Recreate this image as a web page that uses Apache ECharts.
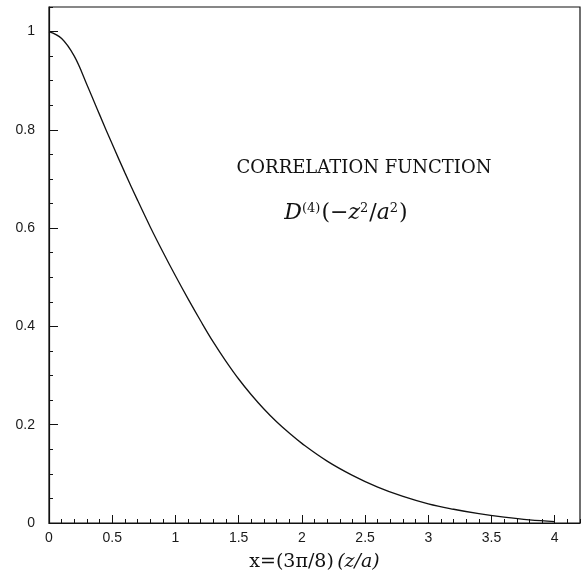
<!DOCTYPE html>
<html>
<head>
<meta charset="utf-8">
<script src="https://cdn.jsdelivr.net/npm/echarts@6/dist/echarts.min.js"></script>
<style>
    html, body { margin: 0; padding: 0; background: #fff; }
    #chart { width: 584px; height: 577px; }
</style>
</head>
<body>
<div id="chart"></div>
<script>
// x = (3pi/8)(z/a)
var xValues = [0, 0.1, 0.2, 0.3, 0.4, 0.5, 0.6, 0.7, 0.8, 0.9, 1.0, 1.1, 1.2, 1.3, 1.4, 1.5, 1.6, 1.7, 1.8, 1.9,
    2.0, 2.2, 2.4, 2.6, 2.8, 3.0, 3.2, 3.4, 3.6, 3.8, 4.0];
// D(4)(-z^2/a^2)
var corrValues = [1.000, 0.986, 0.950, 0.892, 0.831, 0.771, 0.713, 0.657, 0.603, 0.552, 0.503, 0.456, 0.411, 0.368,
    0.329, 0.293, 0.261, 0.232, 0.206, 0.183, 0.162, 0.126, 0.097, 0.073, 0.054, 0.039, 0.028, 0.019, 0.012, 0.0065, 0.003];
var xTickLabels = ['0', '0.5', '1', '1.5', '2', '2.5', '3', '3.5', '4'];
var yTickLabels = ['0', '0.2', '0.4', '0.6', '0.8', '1'];

var seriesData = [];
for (var i = 0; i < xValues.length; i++) {
    seriesData.push([xValues[i], corrValues[i]]);
}

var sansFont = 'Liberation Sans';
var serifFont = 'DejaVu Serif';

var option = {
    animation: false,
    backgroundColor: '#fff',
    grid: {
        left: 49,
        right: 4,
        top: 7,
        bottom: 51,
        show: true,
        borderColor: '#111',
        borderWidth: 1.2
    },
    xAxis: [{
        // minor ticks
        type: 'value',
        min: 0,
        max: 4.2,
        interval: 0.1,
        axisLine: { show: true, lineStyle: { color: '#111', width: 1.2 } },
        axisTick: { show: true, inside: true, length: 4, lineStyle: { color: '#111' } },
        axisLabel: { show: false },
        splitLine: { show: false }
    }, {
        // major ticks + labels
        type: 'value',
        position: 'bottom',
        min: 0,
        max: 4.2,
        interval: 0.5,
        axisLine: { show: false },
        axisTick: { show: true, inside: true, length: 8, lineStyle: { color: '#111' } },
        axisLabel: {
            show: true,
            showMaxLabel: false,
            margin: 8,
            fontFamily: sansFont,
            fontSize: 14,
            color: '#1a1a1a',
            formatter: function(val) {
                var idx = Math.round(val / 0.5);
                return xTickLabels[idx] || '';
            }
        },
        splitLine: { show: false },
        name: '{up|x=(3π/8)} {it|(z/a)}',
        nameLocation: 'middle',
        nameGap: 30,
        nameTextStyle: {
            rich: {
                up: { fontFamily: serifFont, fontSize: 19, color: '#111' },
                it: { fontFamily: serifFont, fontSize: 19, fontStyle: 'italic', color: '#111' }
            }
        }
    }],
    yAxis: [{
        type: 'value',
        min: 0,
        max: 1.05,
        interval: 0.05,
        axisLine: { show: true, lineStyle: { color: '#111', width: 1.2 } },
        axisTick: { show: true, inside: true, length: 4, lineStyle: { color: '#111' } },
        axisLabel: { show: false },
        splitLine: { show: false }
    }, {
        type: 'value',
        position: 'left',
        min: 0,
        max: 1.05,
        interval: 0.2,
        axisLine: { show: false },
        axisTick: { show: true, inside: true, length: 9, lineStyle: { color: '#111' } },
        axisLabel: {
            show: true,
            showMaxLabel: false,
            margin: 14,
            fontFamily: sansFont,
            fontSize: 14,
            color: '#1a1a1a',
            formatter: function(val) {
                var idx = Math.round(val / 0.2);
                return yTickLabels[idx] || '';
            }
        },
        splitLine: { show: false }
    }],
    graphic: [{
        type: 'text',
        x: 364,
        y: 168,
        style: {
            text: 'CORRELATION FUNCTION',
            font: '18px "DejaVu Serif"',
            fill: '#111',
            align: 'center',
            verticalAlign: 'middle'
        }
    }, {
        type: 'text',
        x: 346,
        y: 213,
        style: {
            text: '{it|D}{sup|(4)}{up|(−}{it|z}{sup|2}{up|/}{it|a}{sup|2}{up|)}',
            fill: '#111',
            align: 'center',
            verticalAlign: 'middle',
            rich: {
                it: { fontFamily: serifFont, fontSize: 22, fontStyle: 'italic', fill: '#111' },
                up: { fontFamily: serifFont, fontSize: 22, fill: '#111' },
                sup: { fontFamily: serifFont, fontSize: 13, fill: '#111', padding: [0, 1, 9, 0] }
            }
        }
    }],
    series: [{
        name: 'D4',
        type: 'line',
        xAxisIndex: 0,
        yAxisIndex: 0,
        data: seriesData,
        smooth: 0.4,
        showSymbol: false,
        lineStyle: { color: '#111', width: 1.3 }
    }]
};

var corrChart = echarts.init(document.getElementById('chart'));
corrChart.setOption(option);
</script>
</body>
</html>
